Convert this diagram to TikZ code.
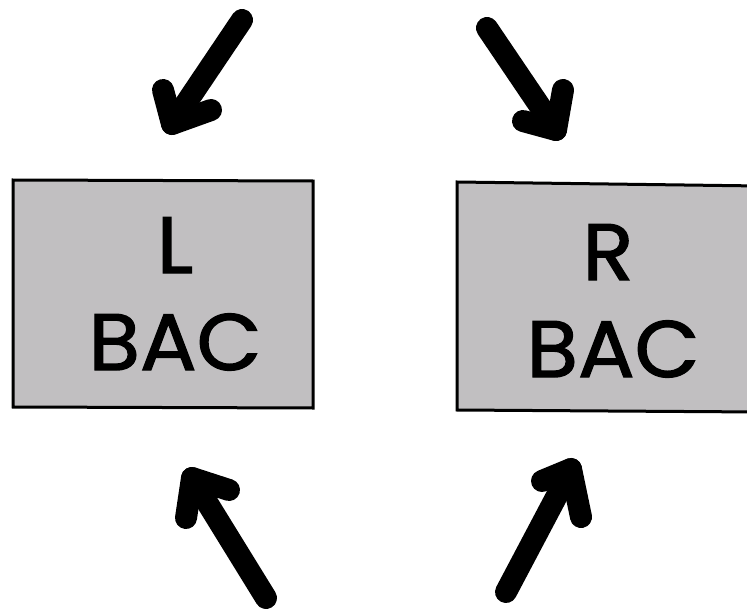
\documentclass[tikz,border=0pt]{standalone}
\usepackage{fontspec}
\setmainfont{Poppins}[FakeBold=1.2]
\definecolor{boxgray}{RGB}{193,191,193}
\tikzset{
  bacbox/.style={draw=black, line width=3pt, fill=boxgray, inner sep=0pt},
  lbl/.style={anchor=base, inner sep=0pt, font=\fontsize{80}{80}\selectfont\addfontfeatures{FakeBold=1.6,FakeStretch=1.05}},
  fatarrow/.style={line width=22pt, line cap=round, line join=round, black}
}
\begin{document}
\begin{tikzpicture}[x=1pt,y=-1pt]
\useasboundingbox (0,0) rectangle (747,615);
% boxes
\draw[bacbox] (13,180) -- (313,181) -- (313,408) -- (13,407) -- cycle;
\draw[bacbox] (457,182) -- (760,186) -- (760,412) -- (457,410) -- cycle;
\node[lbl] (l1) at (175,273) {L};
\node[lbl] (l2) at (175,370) {BAC};
\node[lbl] (r1) at (608,280) {R};
\node[lbl] (r2) at (613,377) {BAC};
% arrow 1 (top left)
\coordinate (a1t) at (242,20);
\coordinate (a1h) at (172,124);
\coordinate (a1p) at (163,90);
\coordinate (a1q) at (211,110);
\draw[fatarrow] (a1t) -- (a1h);
\draw[fatarrow] (a1p) -- (a1h) -- (a1q);
% arrow 2 (top right)
\coordinate (a2t) at (487,28);
\coordinate (a2h) at (556,130);
\coordinate (a2p) at (563,90);
\coordinate (a2q) at (523,121);
\draw[fatarrow] (a2t) -- (a2h);
\draw[fatarrow] (a2p) -- (a2h) -- (a2q);
% arrow 3 (bottom left)
\coordinate (a3t) at (266,598);
\coordinate (a3h) at (192,478);
\coordinate (a3p) at (229,490);
\coordinate (a3q) at (186,518);
\draw[fatarrow] (a3t) -- (a3h);
\draw[fatarrow] (a3p) -- (a3h) -- (a3q);
% arrow 4 (bottom right)
\coordinate (a4t) at (506,592);
\coordinate (a4h) at (571,469);
\coordinate (a4p) at (542,481);
\coordinate (a4q) at (581,517);
\draw[fatarrow] (a4t) -- (a4h);
\draw[fatarrow] (a4p) -- (a4h) -- (a4q);
\end{tikzpicture}
\end{document}
